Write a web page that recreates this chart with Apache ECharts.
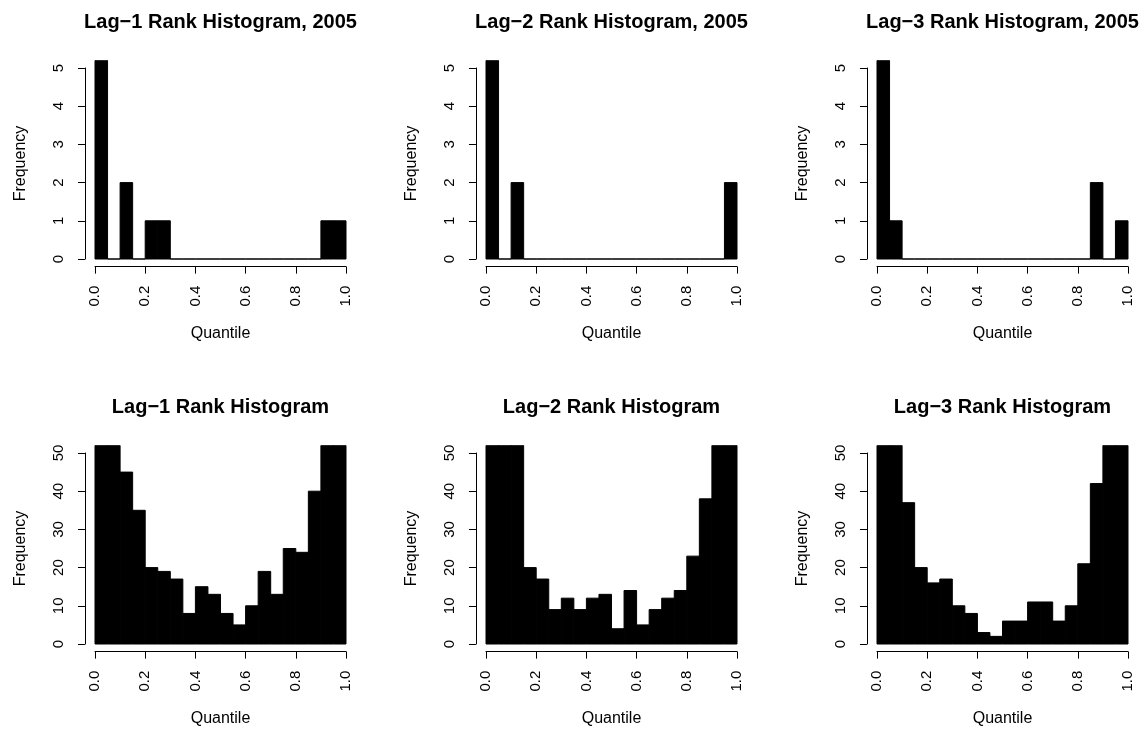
<!DOCTYPE html>
<html>
<head>
<meta charset="utf-8">
<script src="https://cdn.jsdelivr.net/npm/echarts@6/dist/echarts.min.js"></script>
<style>
  html, body { margin: 0; padding: 0; background: #fff; }
  #chart { width: 1145px; height: 730px; }
</style>
</head>
<body>
<div id="chart"></div>
<script>
// ---------- data ----------
const titles = [
  'Lag\u22121 Rank Histogram, 2005',
  'Lag\u22122 Rank Histogram, 2005',
  'Lag\u22123 Rank Histogram, 2005',
  'Lag\u22121 Rank Histogram',
  'Lag\u22122 Rank Histogram',
  'Lag\u22123 Rank Histogram'
];
const binStarts = [0.00, 0.05, 0.10, 0.15, 0.20, 0.25, 0.30, 0.35, 0.40, 0.45,
                   0.50, 0.55, 0.60, 0.65, 0.70, 0.75, 0.80, 0.85, 0.90, 0.95];
const binWidth = 0.05;
const lag1_2005 = [8, 0, 2, 0, 1, 1, 0, 0, 0, 0, 0, 0, 0, 0, 0, 0, 0, 0, 1, 1];
const lag2_2005 = [8, 0, 2, 0, 0, 0, 0, 0, 0, 0, 0, 0, 0, 0, 0, 0, 0, 0, 0, 2];
const lag3_2005 = [8, 1, 0, 0, 0, 0, 0, 0, 0, 0, 0, 0, 0, 0, 0, 0, 0, 2, 0, 1];
const lag1_all = [60, 56, 45, 35, 20, 19, 17, 8, 15, 13, 8, 5, 10, 19, 13, 25, 24, 40, 55, 62];
const lag2_all = [70, 62, 55, 20, 17, 9, 12, 9, 12, 13, 4, 14, 5, 9, 12, 14, 23, 38, 58, 66];
const lag3_all = [66, 58, 37, 20, 16, 17, 10, 8, 3, 2, 6, 6, 11, 11, 6, 10, 21, 42, 57, 64];
const xTicks = { min: 0, max: 1, step: 0.2 };
const yTicksTop = { min: 0, max: 5, step: 1 };
const yTicksBottom = { min: 0, max: 50, step: 10 };
const xName = 'Quantile';
const yName = 'Frequency';

const seriesValues = [lag1_2005, lag2_2005, lag3_2005, lag1_all, lag2_all, lag3_all];

// ---------- layout ----------
const FONT = '"Liberation Sans", Arial, Helvetica, sans-serif';
const colLeft = [95, 486, 877];
const rowTop = [68, 453];
const axisW = 251;
const axisH = 191;
const ext = 0.04;

const option = {
  backgroundColor: '#ffffff',
  animation: false,
  title: [],
  grid: [],
  xAxis: [],
  yAxis: [],
  series: []
};

seriesValues.forEach(function (vals, i) {
  const c = i % 3, r = Math.floor(i / 3);
  const yT = r === 0 ? yTicksTop : yTicksBottom;
  const L = colLeft[c], T = rowTop[r];
  const dx = axisW * ext, dy = axisH * ext;

  option.title.push({
    text: titles[i],
    left: L + axisW / 2,
    top: r === 0 ? 12 : 397,
    textAlign: 'center',
    padding: 0,
    textStyle: { fontFamily: FONT, fontSize: 20, fontWeight: 'bold', color: '#000' }
  });

  const gA = option.grid.length;
  option.grid.push({ left: L, top: T, width: axisW, height: axisH, containLabel: false });
  const gD = option.grid.length;
  option.grid.push({ left: L - dx, top: T - dy, width: axisW * (1 + 2 * ext), height: axisH * (1 + 2 * ext), containLabel: false });

  const xA = option.xAxis.length;
  option.xAxis.push({
    type: 'value', gridIndex: gA, min: xTicks.min, max: xTicks.max, interval: xTicks.step,
    position: 'bottom', offset: dy,
    name: xName, nameLocation: 'middle', nameGap: 59,
    nameTextStyle: { fontFamily: FONT, fontSize: 16, color: '#000' },
    axisLine: { show: true, onZero: false, lineStyle: { color: '#000', width: 1 } },
    axisTick: { show: true, length: 7, lineStyle: { color: '#000', width: 1 } },
    axisLabel: {
      rotate: 90, margin: 19, fontFamily: FONT, fontSize: 15, color: '#000',
      formatter: function (v) { return v.toFixed(1); }
    },
    splitLine: { show: false }
  });
  const yA = option.yAxis.length;
  option.yAxis.push({
    type: 'value', gridIndex: gA, min: yT.min, max: yT.max, interval: yT.step,
    position: 'left', offset: dx,
    name: yName, nameLocation: 'middle', nameGap: 56, nameRotate: 90,
    nameTextStyle: { fontFamily: FONT, fontSize: 16, color: '#000' },
    axisLine: { show: true, onZero: false, lineStyle: { color: '#000', width: 1 } },
    axisTick: { show: true, length: 7, lineStyle: { color: '#000', width: 1 } },
    axisLabel: { rotate: 90, margin: 19, fontFamily: FONT, fontSize: 15, color: '#000' },
    splitLine: { show: false }
  });

  const xD = option.xAxis.length;
  option.xAxis.push({
    type: 'value', gridIndex: gD, show: false,
    min: xTicks.min - ext * (xTicks.max - xTicks.min),
    max: xTicks.max + ext * (xTicks.max - xTicks.min),
    splitLine: { show: false }
  });
  const yD = option.yAxis.length;
  option.yAxis.push({
    type: 'value', gridIndex: gD, show: false,
    min: yT.min - ext * (yT.max - yT.min),
    max: yT.max + ext * (yT.max - yT.min),
    splitLine: { show: false }
  });

  option.series.push({ type: 'line', xAxisIndex: xA, yAxisIndex: yA, data: [], silent: true });

  option.series.push({
    type: 'custom',
    xAxisIndex: xD, yAxisIndex: yD,
    clip: true,
    silent: true,
    data: binStarts.map(function (s, k) { return [s, s + binWidth, vals[k]]; }),
    renderItem: function (params, api) {
      const p0 = api.coord([api.value(0), 0]);
      const p1 = api.coord([api.value(1), api.value(2)]);
      const cs = params.coordSys;
      const topY = Math.max(p1[1], cs.y);
      return {
        type: 'rect',
        shape: { x: p0[0], y: topY, width: p1[0] - p0[0], height: p0[1] - topY },
        style: { fill: '#000', stroke: '#000', lineWidth: 1 }
      };
    }
  });
});

const chart = echarts.init(document.getElementById('chart'), null, { renderer: 'canvas' });
chart.setOption(option);
</script>
</body>
</html>
